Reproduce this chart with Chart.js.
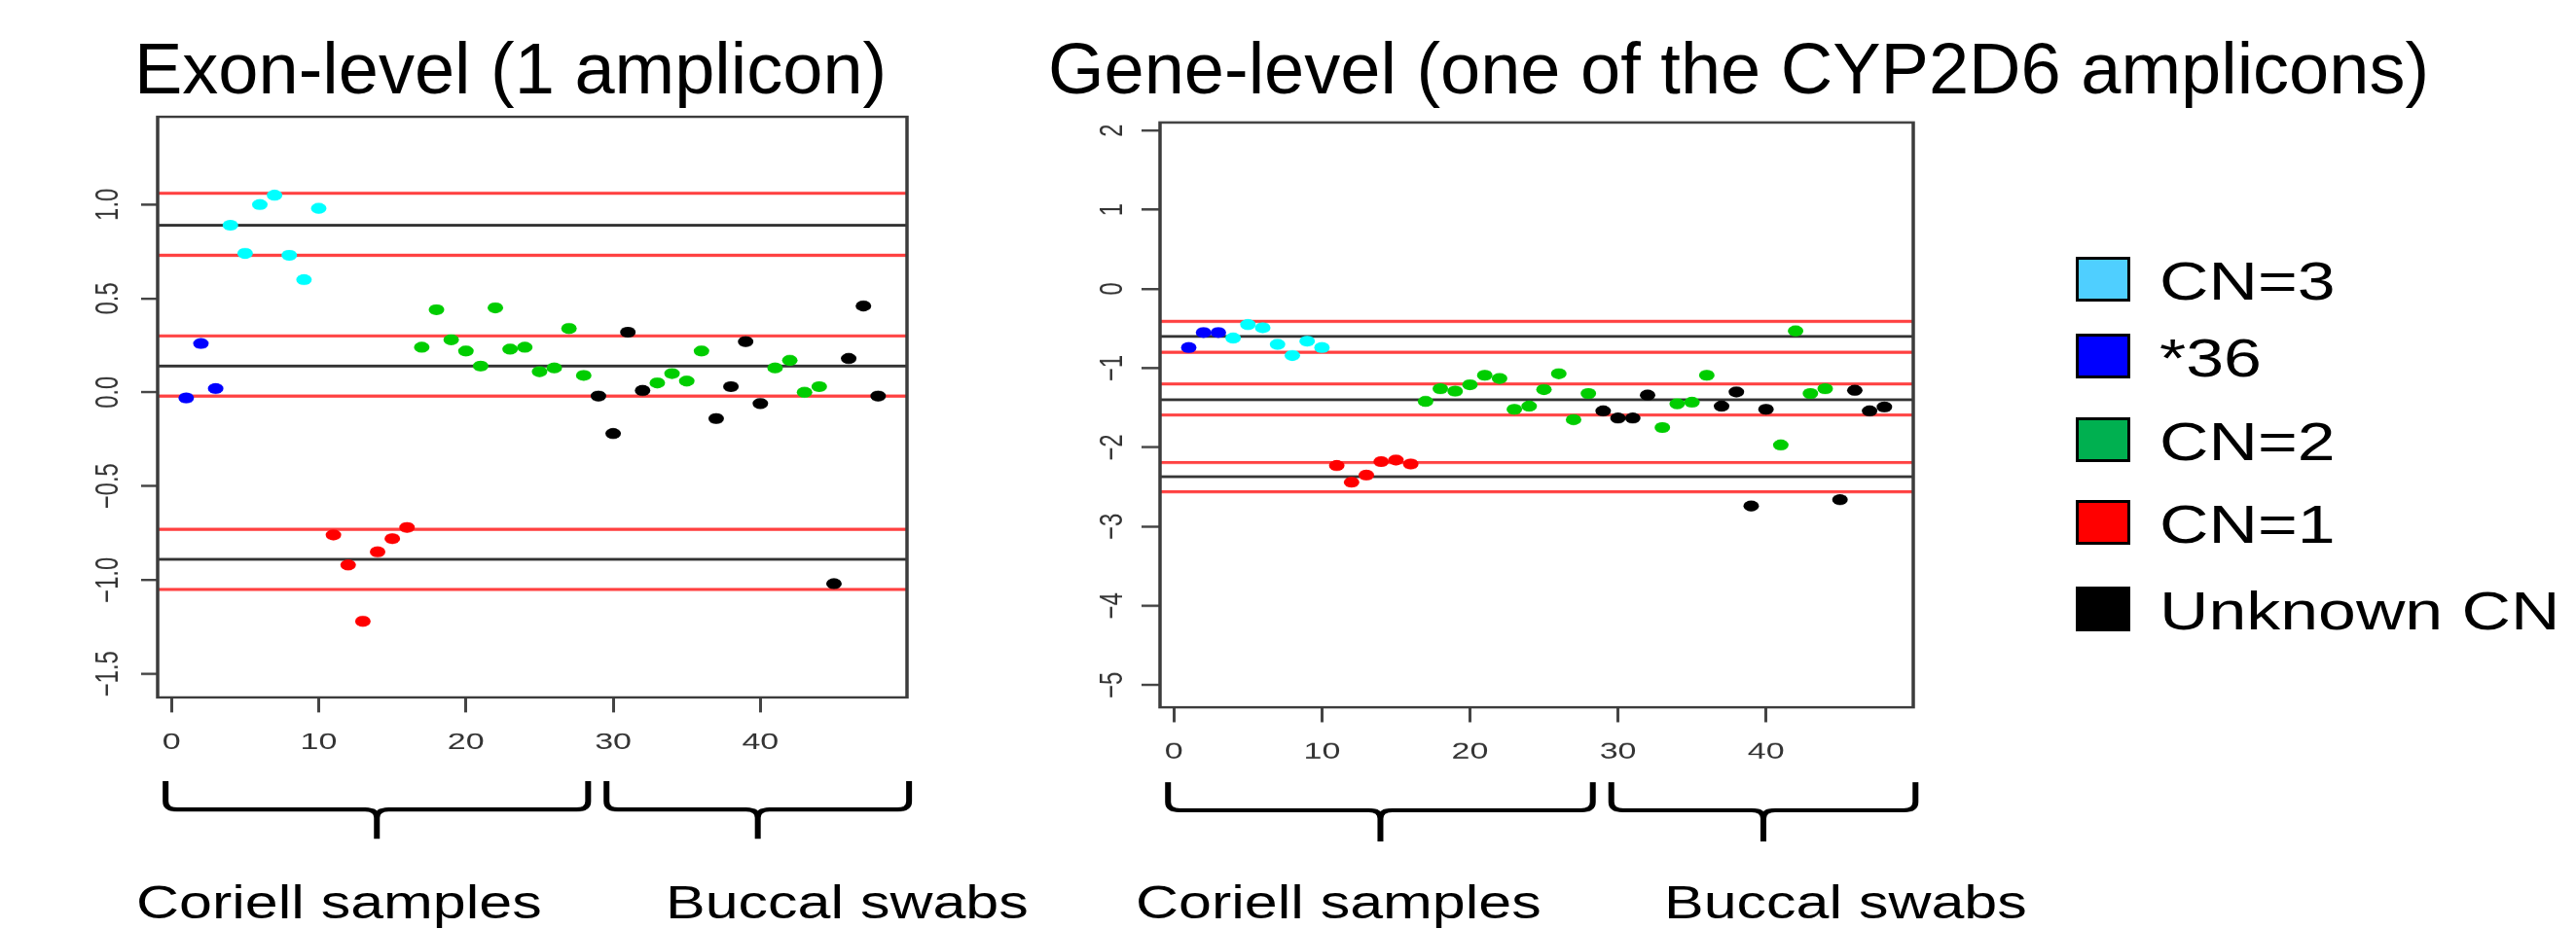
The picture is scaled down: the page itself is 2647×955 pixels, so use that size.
<!DOCTYPE html>
<html>
<head>
<meta charset="utf-8">
<title>Copy number: exon-level vs gene-level</title>
<script src="https://cdn.jsdelivr.net/npm/chart.js"></script>
<style>
  html, body { margin: 0; padding: 0; overflow: hidden; background: #fff; }
  body { width: 2647px; height: 955px; position: relative; font-family: "Liberation Sans", Arial, sans-serif; color: #000; }
  .txt { position: absolute; white-space: nowrap; line-height: 1; }
  .title { font-size: 74px; top: 34px; }
  .group { font-size: 48px; top: 904px; transform: scaleX(1.27); transform-origin: 0 0; }
  .panel { position: absolute; top: 100px; transform: scaleY(0.7); transform-origin: 0 0; }
  .panel canvas { display: block; }
  .lbox { position: absolute; box-sizing: border-box; border: 3px solid #000; width: 56px; height: 46px; }
  .ltxt { font-size: 55px; transform: scaleX(1.27); transform-origin: 0 0; }
</style>
</head>
<body>
<div class="txt title" style="left:138px">Exon-level (1 amplicon)</div>
<div class="txt title" style="left:1077px">Gene-level (one of the CYP2D6 amplicons)</div>

<div class="panel" style="left:60px"><canvas id="exonChart" width="882" height="1110"></canvas></div>
<div class="panel" style="left:1090px"><canvas id="geneChart" width="886" height="1110"></canvas></div>

<div class="txt group" style="left:140px">Coriell samples</div>
<div class="txt group" style="left:684px">Buccal swabs</div>
<div class="txt group" style="left:1167px">Coriell samples</div>
<div class="txt group" style="left:1710px">Buccal swabs</div>

<div id="legend"></div>

<script>
// samples 1..48, with the copy-number class of each one
const sampleIndex = [1, 2, 3, 4, 5, 6, 7, 8, 9, 10, 11, 12, 13, 14, 15, 16, 17, 18, 19, 20, 21, 22, 23, 24,
  25, 26, 27, 28, 29, 30, 31, 32, 33, 34, 35, 36, 37, 38, 39, 40, 41, 42, 43, 44, 45, 46, 47, 48];
const sampleGroup = ["*36", "*36", "*36",
  "CN=3", "CN=3", "CN=3", "CN=3", "CN=3", "CN=3", "CN=3",
  "CN=1", "CN=1", "CN=1", "CN=1", "CN=1", "CN=1",
  "CN=2", "CN=2", "CN=2", "CN=2", "CN=2", "CN=2", "CN=2", "CN=2", "CN=2", "CN=2", "CN=2", "CN=2",
  "Unknown CN", "Unknown CN", "Unknown CN", "Unknown CN",
  "CN=2", "CN=2", "CN=2", "CN=2",
  "Unknown CN", "Unknown CN", "Unknown CN", "Unknown CN",
  "CN=2", "CN=2", "CN=2", "CN=2",
  "Unknown CN", "Unknown CN", "Unknown CN", "Unknown CN"];

// exon-level amplicon values
const exonValues = [-0.03, 0.26, 0.02, 0.89, 0.74, 1.00, 1.05, 0.73, 0.60, 0.98,
  -0.76, -0.92, -1.22, -0.85, -0.78, -0.72,
  0.24, 0.44, 0.28, 0.22, 0.14, 0.45, 0.23, 0.24, 0.11, 0.13, 0.34, 0.09,
  -0.02, -0.22, 0.32, 0.01,
  0.05, 0.10, 0.06, 0.22,
  -0.14, 0.03, 0.27, -0.06,
  0.13, 0.17, 0.00, 0.03,
  -1.02, 0.18, 0.46, -0.02];
const exonRedLines = [1.06, 0.73, 0.30, -0.02, -0.73, -1.05];
const exonBlackLines = [0.89, 0.14, -0.89];
const exonYTicks = [-1.5, -1, -0.5, 0, 0.5, 1];
const exonYLabels = ["\u22121.5", "\u22121.0", "\u22120.5", "0.0", "0.5", "1.0"];

// gene-level (CYP2D6) amplicon values
const geneValues = [-0.74, -0.55, -0.55, -0.62, -0.45, -0.49, -0.70, -0.84, -0.66, -0.74,
  -2.23, -2.44, -2.35, -2.18, -2.16, -2.21,
  -1.42, -1.26, -1.29, -1.21, -1.09, -1.13, -1.52, -1.48, -1.27, -1.07, -1.65, -1.32,
  -1.54, -1.63, -1.63, -1.34,
  -1.75, -1.45, -1.43, -1.09,
  -1.48, -1.30, -2.74, -1.52,
  -1.97, -0.53, -1.32, -1.26,
  -2.66, -1.28, -1.54, -1.49];
const geneRedLines = [-0.41, -0.80, -1.20, -1.59, -2.19, -2.56];
const geneBlackLines = [-0.60, -1.40, -2.37];
const geneYTicks = [-5, -4, -3, -2, -1, 0, 1, 2];
const geneYLabels = ["\u22125", "\u22124", "\u22123", "\u22122", "\u22121", "0", "1", "2"];

const xTicks = [0, 10, 20, 30, 40];
const xTickLabels = ["0", "10", "20", "30", "40"];

// sample groups marked with braces under the x axis
const groupNames = ["Coriell samples", "Buccal swabs"];
const groupRanges = [[-0.4, 28.3], [29.55, 50.1]];

const categories = ["CN=3", "*36", "CN=2", "CN=1", "Unknown CN"];
const pointColors = ["#00FFFF", "#0000FF", "#00CD00", "#FF0000", "#000000"];
const legendColors = ["#4FCFFF", "#0000FF", "#00B050", "#FF0000", "#000000"];

const H = 1110;
const tickFont = { family: "'Liberation Sans', Arial, sans-serif", size: 34 };

// box round the plot area + the curly braces below the axis
const boxAndBraces = {
  id: "boxAndBraces",
  afterDraw(chart, args, opts) {
    const { ctx, chartArea: a } = chart;
    const x = chart.scales.x;
    ctx.save();
    ctx.strokeStyle = "#3c3c3c";
    ctx.lineWidth = 3.5;
    ctx.strokeRect(a.left, a.top, a.right - a.left, a.bottom - a.top);

    const [yTop, yBar, yTip] = opts.y;
    ctx.strokeStyle = "#000";
    ctx.lineWidth = 6;
    ctx.lineJoin = "round";
    groupRanges.forEach(([from, to]) => {
      const x0 = x.getPixelForValue(from);
      const x1 = x.getPixelForValue(to);
      const xm = (x0 + x1) / 2;
      const r = 12;
      ctx.beginPath();
      ctx.moveTo(x0, yTop);
      ctx.lineTo(x0, yBar - r);
      ctx.quadraticCurveTo(x0, yBar, x0 + r, yBar);
      ctx.lineTo(xm - r, yBar);
      ctx.quadraticCurveTo(xm, yBar, xm, yBar + r);
      ctx.lineTo(xm, yTip);
      ctx.moveTo(xm, yBar + r);
      ctx.quadraticCurveTo(xm, yBar, xm + r, yBar);
      ctx.lineTo(x1 - r, yBar);
      ctx.quadraticCurveTo(x1, yBar, x1, yBar - r);
      ctx.lineTo(x1, yTop);
      ctx.stroke();
    });
    ctx.restore();
  }
};

function hline(v, color, width, xMin, xMax) {
  return {
    type: "line",
    data: [{ x: xMin, y: v }, { x: xMax, y: v }],
    borderColor: color,
    borderWidth: width,
    pointRadius: 0,
    order: 2
  };
}

function drawPanel(id, values, redLines, blackLines, yTicks, yLabels, cfg) {
  const datasets = [];
  redLines.forEach(v => datasets.push(hline(v, "#ff4040", 4.5, cfg.xMin, cfg.xMax)));
  blackLines.forEach(v => datasets.push(hline(v, "#333333", 4, cfg.xMin, cfg.xMax)));

  categories.forEach((cat, c) => {
    const pts = [];
    sampleIndex.forEach((s, k) => {
      if (sampleGroup[k] === cat) pts.push({ x: s, y: values[k] });
    });
    datasets.push({
      type: "scatter",
      label: cat,
      data: pts,
      pointRadius: 8,
      pointBorderWidth: 0,
      pointBackgroundColor: pointColors[c],
      borderColor: pointColors[c],
      order: 1
    });
  });

  new Chart(document.getElementById(id), {
    type: "scatter",
    data: { datasets },
    options: {
      responsive: false,
      animation: false,
      layout: { padding: { top: cfg.padTop, right: 10, bottom: 0, left: 0 }, autoPadding: false },
      plugins: {
        legend: { display: false },
        tooltip: { enabled: false },
        boxAndBraces: { y: cfg.braceY }
      },
      scales: {
        x: {
          type: "linear",
          min: cfg.xMin,
          max: cfg.xMax,
          afterBuildTicks: s => { s.ticks = xTicks.map(v => ({ value: v })); },
          afterFit: s => { s.height = H - cfg.areaBottom; s.paddingLeft = 0; s.paddingRight = 0; },
          ticks: {
            callback: (v, i) => xTickLabels[i],
            font: tickFont, color: "#333", padding: 24,
            maxRotation: 0, autoSkip: false
          },
          grid: { drawOnChartArea: false, drawTicks: true, tickLength: 22, lineWidth: 3, color: "#444" },
          border: { display: false }
        },
        y: {
          type: "linear",
          min: cfg.yMin,
          max: cfg.yMax,
          afterBuildTicks: s => { s.ticks = yTicks.map(v => ({ value: v })); },
          afterFit: s => { s.width = 102; s.paddingTop = 0; s.paddingBottom = 0; },
          ticks: {
            callback: (v, i) => yLabels[i],
            font: tickFont, color: "#333", padding: cfg.yPad,
            minRotation: 90, maxRotation: 90, crossAlign: "center", autoSkip: false
          },
          grid: { drawOnChartArea: false, drawTicks: true, tickLength: cfg.yTick, lineWidth: 3.5, color: "#444" },
          border: { display: false }
        }
      }
    },
    plugins: [boxAndBraces]
  });
}

drawPanel("exonChart", exonValues, exonRedLines, exonBlackLines, exonYTicks, exonYLabels, {
  xMin: -0.94, xMax: 49.96, yMin: -1.626, yMax: 1.468,
  padTop: 28.6, areaBottom: 881.4, yTick: 17, yPad: 0, braceY: [1004, 1046, 1089]
});
drawPanel("geneChart", geneValues, geneRedLines, geneBlackLines, geneYTicks, geneYLabels, {
  xMin: -0.94, xMax: 49.95, yMin: -5.28, yMax: 2.10,
  padTop: 37.1, areaBottom: 895.7, yTick: 19, yPad: 10, braceY: [1006, 1047, 1093]
});

// legend (outside both plots)
const legendTops = [264, 343, 429, 514, 603];
const legend = document.getElementById("legend");
categories.forEach((cat, i) => {
  const box = document.createElement("div");
  box.className = "lbox";
  box.style.left = "2133px";
  box.style.top = legendTops[i] + "px";
  box.style.background = legendColors[i];
  legend.appendChild(box);
  const t = document.createElement("div");
  t.className = "txt ltxt";
  t.style.left = "2219px";
  t.style.top = (legendTops[i] - 2) + "px";
  t.textContent = cat;
  legend.appendChild(t);
});
</script>
</body>
</html>
